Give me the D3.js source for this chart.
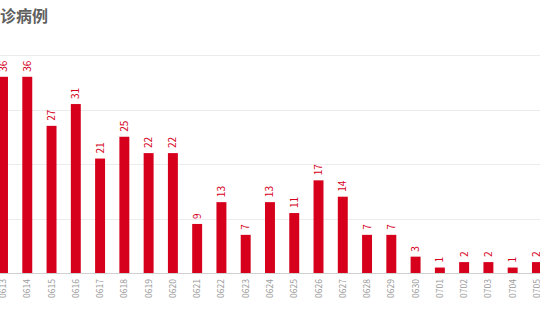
<!DOCTYPE html>
<html>
<head>
<meta charset="utf-8">
<script src="https://cdn.jsdelivr.net/npm/d3@7"></script>
<style>
  body { margin: 0; background: #fff; }
  svg { display: block; font-family: "Noto Sans CJK SC", "Noto Sans", sans-serif; }
</style>
</head>
<body>
<div id="chart"></div>
<script>
// dates and daily counts
const dates = ["0613", "0614", "0615", "0616", "0617", "0618", "0619", "0620", "0621", "0622", "0623", "0624",
  "0625", "0626", "0627", "0628", "0629", "0630", "0701", "0702", "0703", "0704", "0705"];
const cases = [36, 36, 27, 31, 21, 25, 22, 22, 9, 13, 7, 13, 11, 17, 14, 7, 7, 3, 1, 2, 2, 1, 2];
const yTicks = [0, 10, 20, 30, 40];
const title = "诊病例";

const width = 540, height = 320;
const baseY = 273, topY = 55;

const svg = d3.select("#chart").append("svg")
  .attr("width", width)
  .attr("height", height);

const step = 24.27;
const x = d3.scaleBand()
  .domain(dates)
  .range([3 - step / 2, 3 - step / 2 + step * dates.length])
  .paddingInner(0.59)
  .paddingOuter(0.295);

const y = d3.scaleLinear().domain([0, 40]).range([baseY, topY]);

// title (the frame cuts the start of it in the original)
svg.append("text")
  .attr("x", 0)
  .attr("y", 22)
  .style("font-size", "16px")
  .style("font-weight", "bold")
  .attr("fill", "#606060")
  .text(title);

// grid
svg.append("g")
  .selectAll("line")
  .data(yTicks.slice(1))
  .join("line")
  .attr("x1", 0)
  .attr("x2", width)
  .attr("y1", d => Math.round(y(d)) + 0.5)
  .attr("y2", d => Math.round(y(d)) + 0.5)
  .attr("stroke", "#ececec");

// bars
svg.append("g")
  .selectAll("rect")
  .data(dates)
  .join("rect")
  .attr("x", d => x(d))
  .attr("width", x.bandwidth())
  .attr("y", (d, i) => y(cases[i]))
  .attr("height", (d, i) => y(0) - y(cases[i]))
  .attr("fill", "#d6001c");

// baseline
svg.append("line")
  .attr("x1", 0).attr("x2", width)
  .attr("y1", baseY + 0.5).attr("y2", baseY + 0.5)
  .attr("stroke", "#d0d0d0");

// value labels, rotated
svg.append("g")
  .selectAll("text")
  .data(dates)
  .join("text")
  .attr("transform", (d, i) => `translate(${x(d) + x.bandwidth() / 2 + 3.5},${y(cases[i]) - 5}) rotate(-90)`)
  .attr("text-anchor", "start")
  .style("font-size", "10px")
  .attr("fill", "#d6001c")
  .text((d, i) => cases[i]);

// x axis labels
svg.append("g")
  .selectAll("text")
  .data(dates)
  .join("text")
  .attr("transform", d => `translate(${x(d) + x.bandwidth() / 2 + 3},${baseY + 6}) rotate(-90)`)
  .attr("text-anchor", "end")
  .style("font-size", "8.5px")
  .attr("fill", "#999")
  .text(d => d);
</script>
</body>
</html>
